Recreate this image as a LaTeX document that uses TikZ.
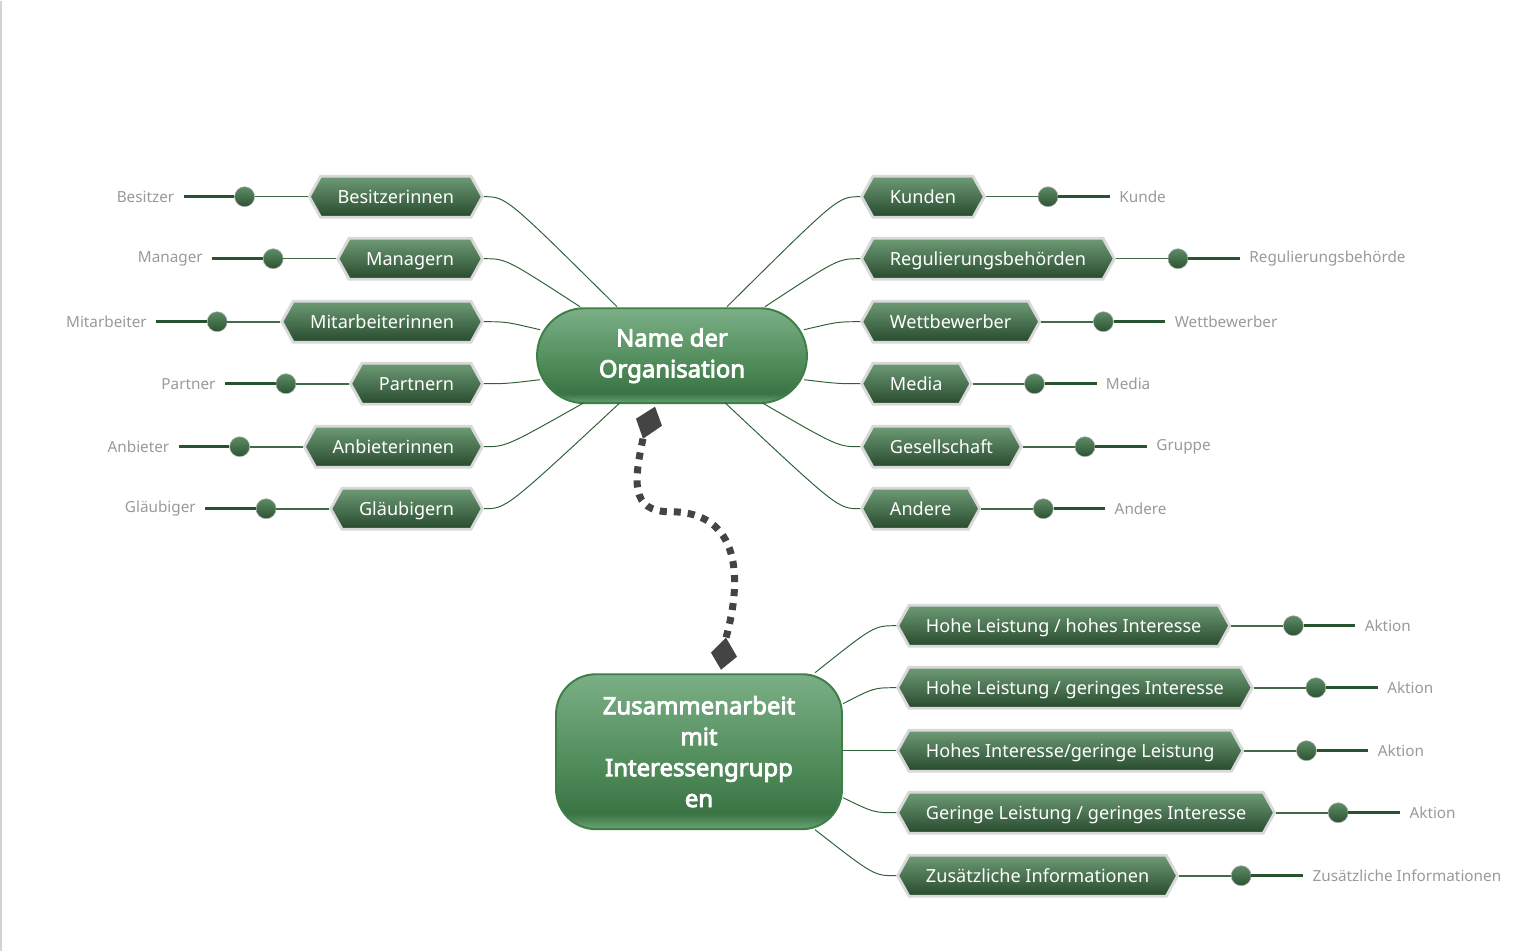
\documentclass[tikz,border=0pt]{standalone}
\usepackage{fontspec}
\setmainfont{Noto Sans}
\newfontfamily\hubfont{Noto Sans}[AutoFakeBold=3.6]
\usetikzlibrary{calc,shapes.symbols}

\definecolor{hubtop}{HTML}{7BAF86}
\definecolor{hubmid}{HTML}{4F8A59}
\definecolor{hubdark}{HTML}{3B7444}
\definecolor{hublow}{HTML}{6AA374}
\definecolor{hubline}{HTML}{3E7F48}
\definecolor{toptop}{HTML}{6E9B76}
\definecolor{topbot}{HTML}{274A2D}
\definecolor{knobtop}{HTML}{5E8C66}
\definecolor{knobbot}{HTML}{2C5332}
\definecolor{twiggreen}{HTML}{2E6236}
\definecolor{leafgray}{HTML}{9A9A9A}
\definecolor{linkgray}{HTML}{444444}

\pgfdeclareverticalshading{hubshade}{100bp}{color(0bp)=(hublow); color(25bp)=(hublow); color(30bp)=(hubdark); color(45bp)=(hubmid); color(75bp)=(hubtop); color(100bp)=(hubtop)}

\tikzset{
  hub/.style={rectangle, draw=hubline, line width=1.1pt, shading=hubshade, text=white, align=center, font=\hubfont\fontsize{13.6}{17.6}\selectfont\bfseries},
  topic/.style={signal, signal to=west and east, signal pointer angle=122, draw=gray!30, line width=1.6pt, top color=toptop, bottom color=topbot, text=white, font=\fontsize{10.3}{12}\selectfont, minimum height=8.2mm, inner xsep=3.4mm, inner ysep=0pt, text height=9.6pt, text depth=2.4pt},
  knob/.style={circle, draw=gray!60, line width=0.3pt, top color=knobtop, bottom color=knobbot, minimum size=4mm, inner sep=0pt},
  leaf/.style={text=leafgray, font=\fontsize{8.7}{10}\selectfont, inner xsep=4.5pt},
  twig/.style={draw=twiggreen, line width=0.55pt},
  stem/.style={draw=twiggreen!75!gray, line width=0.9pt},
  stalk/.style={draw=twiggreen!85!black, line width=1.7pt},
  dotlink/.style={draw=linkgray, line width=4pt, dash pattern=on 4pt off 4pt},
}

\begin{document}
\begin{tikzpicture}[x=0.02cm, y=-0.02cm]

 \fill[white] (0,0) rectangle (1536,950);
 \draw[gray!35, line width=0.8pt] (1,0) -- (1,950);

 % the two hubs
 \node[hub, minimum width=54mm, minimum height=19mm, rounded corners=9.5mm] (org) at (672,355) {Name der\\Organisation};
 \node[hub, minimum width=57.2mm, minimum height=31mm, rounded corners=8mm] (team) at (699,751) {Zusammenarbeit\\mit\\Interessengrupp\\en};

 % left side
 \node[topic, anchor=east] (besitz) at (484,196) {Besitzerinnen};
 \node[topic, anchor=east] (manag) at (484,258) {Managern};
 \node[topic, anchor=east] (mitarb) at (484,321) {Mitarbeiterinnen};
 \node[topic, anchor=east] (partn) at (484,383) {Partnern};
 \node[topic, anchor=east] (anbiet) at (484,446) {Anbieterinnen};
 \node[topic, anchor=east] (glaeub) at (484,508) {Gläubigern};

 % right side
 \node[topic, anchor=west] (kund) at (860,196) {Kunden};
 \node[topic, anchor=west] (regul) at (860,258) {Regulierungsbehörden};
 \node[topic, anchor=west] (wettb) at (860,321) {Wettbewerber};
 \node[topic, anchor=west] (media) at (860,383) {Media};
 \node[topic, anchor=west] (gesell) at (860,446) {Gesellschaft};
 \node[topic, anchor=west] (andere) at (860,508) {Andere};

 % below
 \node[topic, anchor=west] (hoho) at (896,625) {Hohe Leistung / hohes Interesse};
 \node[topic, anchor=west] (hoge) at (896,687) {Hohe Leistung / geringes Interesse};
 \node[topic, anchor=west] (hige) at (896,750) {Hohes Interesse/geringe Leistung};
 \node[topic, anchor=west] (gege) at (896,812) {Geringe Leistung / geringes Interesse};
 \node[topic, anchor=west] (zusatz) at (896,875) {Zusätzliche Informationen};

 \foreach \n/\x/\y in {besitz/-55/-49, manag/-92/-49, mitarb/-132/-26, partn/-132/24, anbiet/-88/47, glaeub/-52/47}
   \draw[twig] ($(org)+(\x,\y)$) .. controls ($(\n.east)+(22,0)$) .. (\n.east);
 \foreach \n/\x/\y in {kund/55/-49, regul/93/-49, wettb/132/-26, media/132/24, gesell/90/47, andere/53/47}
   \draw[twig] ($(org)+(\x,\y)$) .. controls ($(\n.west)+(-22,0)$) .. (\n.west);
 \foreach \n/\x/\y in {hoho/116/-79, hoge/144/-48, hige/144/-1, gege/144/46, zusatz/116/78}
   \draw[twig] ($(team)+(\x,\y)$) .. controls ($(\n.west)+(-22,0)$) .. (\n.west);

 % knobs and leaves
 \foreach \n/\t in {besitz/Besitzer, manag/Manager, mitarb/Mitarbeiter, partn/Partner, anbiet/Anbieter, glaeub/Gläubiger}{
   \node[knob] (\n k) at ($(\n.west)+(-63,0)$) {};
   \draw[stem] (\n.west) -- (\n k);
   \draw[stalk] (\n k) -- ++(-61,0) node[leaf, anchor=east] (\n t) {\t};
 }
 \foreach \n/\t in {kund/Kunde, regul/Regulierungsbehörde, wettb/Wettbewerber, media/Media, gesell/Gruppe, andere/Andere, hoho/Aktion, hoge/Aktion, hige/Aktion, gege/Aktion, zusatz/Zusätzliche Informationen}{
   \node[knob] (\n k) at ($(\n.east)+(62,0)$) {};
   \draw[stem] (\n.east) -- (\n k);
   \draw[stalk] (\n k) -- ++(62,0) node[leaf, anchor=west] (\n t) {\t};
 }

 % dotted link between the hubs
 \coordinate (linka) at (643,438);
 \coordinate (linkb) at (726,637);
 \fill[linkgray] (655,406) -- (662,425) -- (linka) -- (636,418) -- cycle;
 \fill[linkgray] (linkb) -- (737,656) -- (721,669) -- (711,652) -- cycle;
 \draw[dotlink] (linka) .. controls (634,480) and (630,511) .. (670,511) .. controls (742,511) and (742,580) .. (linkb);

\end{tikzpicture}
\end{document}
